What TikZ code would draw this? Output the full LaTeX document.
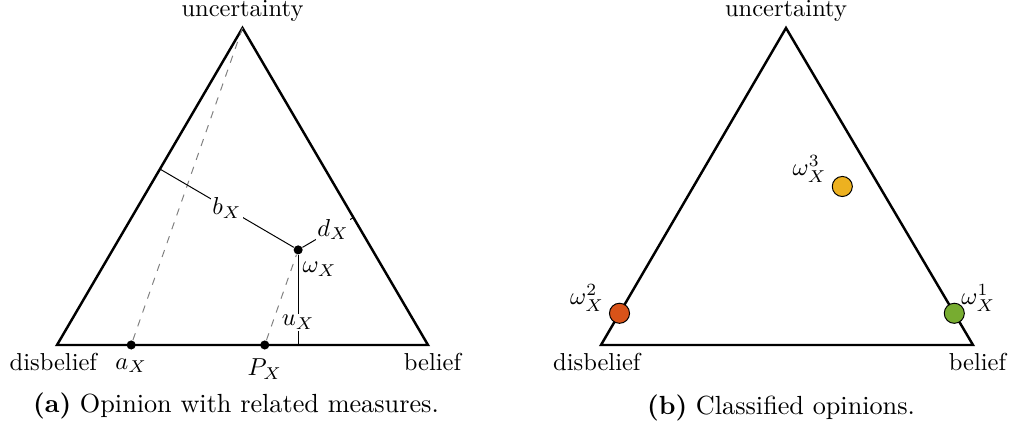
\documentclass[tikz,border=0pt]{standalone}
\usetikzlibrary{calc}

\definecolor{opred}{HTML}{D95319}
\definecolor{opyellow}{HTML}{EDB120}
\definecolor{opgreen}{HTML}{77AC30}

\tikzset{
  edge/.style={line width=1pt, line join=miter},
  measure/.style={fill=white, inner sep=0.6pt},
  baseline/.style={dashed, gray},
  dot/.style={circle, fill=black, inner sep=0pt, minimum size=3.7pt},
  opinion/.style={circle, draw=black, line width=0.4pt, inner sep=0pt, minimum size=8.2pt},
  caption/.style={font=\fontsize{10.7}{13}\selectfont}
}

\begin{document}
\begin{tikzpicture}[x=0.408pt, y=0.408pt]
  \useasboundingbox (0,0) rectangle (1012,428);

  % (a) opinion with related measures
  \coordinate (D1) at (57,83);
  \coordinate (B1) at (428,83);
  \coordinate (U1) at (242.5,400);
  \draw[edge] (D1) -- (B1) -- (U1) -- cycle;
  \node[above, inner sep=2.6pt] (u1) at (U1) {uncertainty};
  \node[below, xshift=-1.5pt] (d1) at (D1) {disbelief};
  \node[below, xshift=1.8pt] (b1) at (B1) {belief};

  % b = 0.5, d = 0.2, u = 0.3, a = 0.2
  \node[dot] (w) at ($0.5*(B1)+0.2*(D1)+0.3*(U1)$) {};
  \coordinate (wb) at ($(D1)!(w)!(U1)$);
  \coordinate (wd) at ($(B1)!(w)!(U1)$);
  \coordinate (wu) at ($(D1)!(w)!(B1)$);
  \node[dot, label=below:$a_X$] (a) at ($(D1)!0.2!(B1)$) {};
  \node[dot, label=below:$P_X$] (P) at ($(D1)!0.56!(B1)$) {};
  \draw[baseline] (a) -- (U1);
  \draw[baseline] (P) -- (w);
  \draw (w) -- node[measure] {$b_X$} (wb);
  \draw (w) -- node[measure, pos=0.6] {$d_X$} (wd);
  \draw (w) -- node[measure, pos=0.75] {$u_X$} (wu);
  \node[anchor=north west, inner sep=0pt] (wl) at ($(w)+(1.6pt,-4.9pt)$) {$\omega_X$};

  \node[caption] (capa) at (236,22.5) {\textbf{(a)} Opinion with related measures.};

  % (b) classified opinions
  \coordinate (D2) at (601,83);
  \coordinate (B2) at (973,83);
  \coordinate (U2) at (786,400);
  \draw[edge] (D2) -- (B2) -- (U2) -- cycle;
  \node[above, inner sep=2.6pt] (u2) at (U2) {uncertainty};
  \node[below, xshift=-1.7pt] (d2) at (D2) {disbelief};
  \node[below, xshift=1.8pt] (b2) at (B2) {belief};

  \node[opinion, fill=opgreen] (w1) at ($0.9*(B2)+0.1*(U2)$) {};
  \node[opinion, fill=opred] (w2) at ($0.9*(D2)+0.1*(U2)$) {};
  \node[opinion, fill=opyellow] (w3) at ($0.4*(B2)+0.1*(D2)+0.5*(U2)$) {};
  \node[anchor=south west, inner sep=0pt] (l1) at ($(w1)+(2.7pt,0.5pt)$) {$\omega_X^1$};
  \node[anchor=south east, inner sep=0pt] (l2) at ($(w2)+(-6.1pt,0.5pt)$) {$\omega_X^2$};
  \node[anchor=south east, inner sep=0pt] (l3) at ($(w3)+(-6.2pt,1.4pt)$) {$\omega_X^3$};

  \node[caption] (capb) at (781,20.5) {\textbf{(b)} Classified opinions.};
\end{tikzpicture}
\end{document}
